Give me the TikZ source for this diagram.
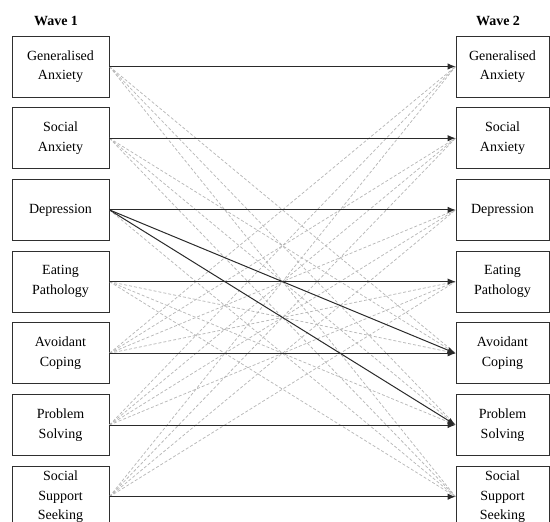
\documentclass[tikz,border=0pt]{standalone}
\usepackage{fontspec}
\setmainfont{Liberation Serif}
\usetikzlibrary{arrows.meta}
\definecolor{boxline}{HTML}{2F2F2F}
\definecolor{solidline}{HTML}{2A2A2A}
\definecolor{dashline}{HTML}{B8B8B8}
\begin{document}
\begin{tikzpicture}[x=1pt,y=-1pt,
  box/.style={draw=boxline, line width=0.9pt, minimum height=61pt, inner sep=0pt, align=center,
    font=\fontsize{14}{19.5}\selectfont},
  lbox/.style={box, minimum width=97pt},
  rbox/.style={box, minimum width=93pt},
  wave/.style={font=\fontsize{14}{16}\selectfont\bfseries},
  solidarrow/.style={draw=solidline, line width=1pt, -{Latex[length=8pt,width=6.5pt]}},
  crosslag/.style={draw=dashline, line width=0.75pt, dash pattern=on 3pt off 2pt}]
\clip (0,0) rectangle (550,522);
\useasboundingbox (0,0) rectangle (550,522);
\node[wave] (w1) at (56,20.5) {Wave 1};
\node[wave] (w2) at (498,20.5) {Wave 2};
\foreach \i/\t in {1/{Generalised\\Anxiety},2/{Social\\Anxiety},3/{Depression},4/{Eating\\Pathology},5/{Avoidant\\Coping},6/{Problem\\Solving},7/{Social\\Support\\Seeking}}{
  \pgfmathsetmacro{\cy}{66.5+71.7*(\i-1)}
  \node[lbox] (L\i) at (60.5,\cy) {\t};
  \node[rbox] (R\i) at (502.5,\cy) {\t};
}
% symptoms -> coping
\foreach \i/\j in {1/5,1/6,1/7,2/5,2/6,2/7,3/7,4/5,4/6,4/7}{
  \draw[crosslag] (L\i.east) -- (R\j.west);
}
% coping -> symptoms
\foreach \i in {5,6,7}{
  \foreach \j in {1,2,3,4}{
    \draw[crosslag] (L\i.east) -- (R\j.west);
  }
}
\foreach \i in {1,...,7}{
  \draw[solidarrow] (L\i.east) -- (R\i.west);
}
\draw[solidarrow] (L3.east) -- (R5.west);
\draw[solidarrow] (L3.east) -- (R6.west);
\end{tikzpicture}
\end{document}
